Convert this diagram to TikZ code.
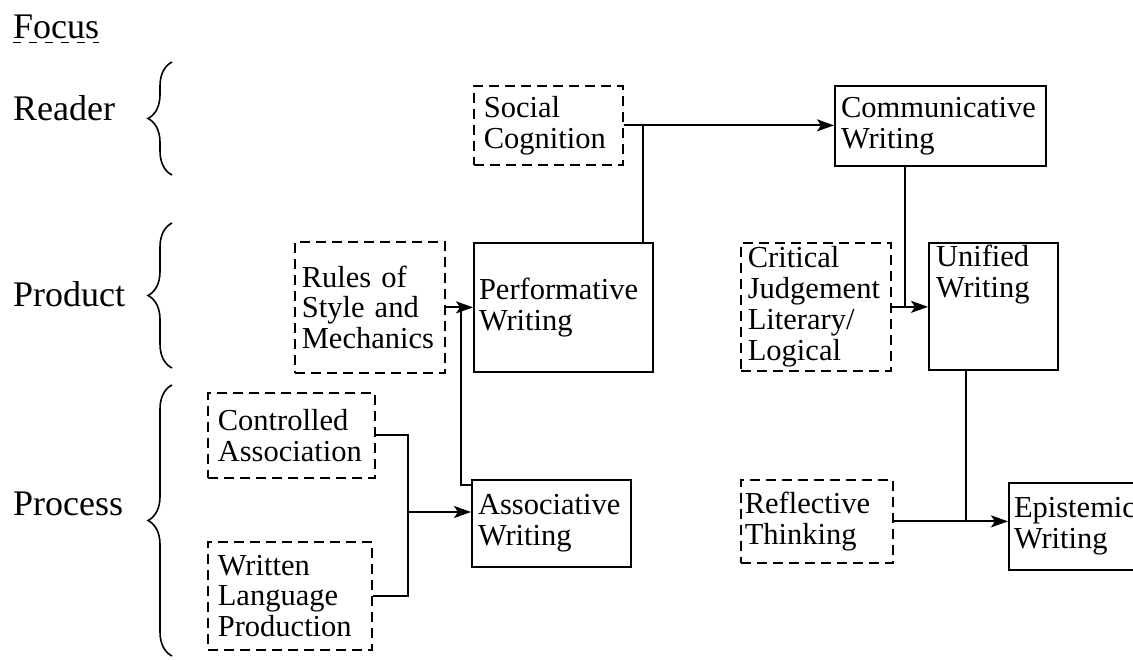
\documentclass[tikz,border=0pt]{standalone}
\usepackage{fontspec}
\setmainfont{Liberation Serif}
\usetikzlibrary{arrows.meta,decorations.pathreplacing,calc}

\newcommand{\boxfont}{\fontsize{30.5}{30.8}\selectfont}
\newcommand{\focusfont}{\fontsize{36}{40}\selectfont}

\tikzset{
  solidbox/.style={draw, line width=2pt, anchor=north west, align=left, inner ysep=0pt, font=\boxfont},
  dashbox/.style={solidbox, line width=1.7pt, dash pattern=on 10pt off 6pt},
  levellabel/.style={anchor=base west, inner sep=0pt, font=\focusfont},
  conn/.style={line width=2pt},
  arr/.style={conn, -{Stealth[length=17pt,width=12pt,inset=4pt]}},
  focusbrace/.style={decorate, decoration={brace, amplitude=24pt}, line width=1.6pt},
}

\begin{document}
\begin{tikzpicture}[x=1pt, y=-1pt]
  \useasboundingbox (0,0) rectangle (1133,659);
  \clip (0,0) rectangle (1133,659);

  % Focus levels (Left)
  \node[levellabel] (focus) at (13,38) {Focus};
  \draw[line width=1.5pt, dash pattern=on 8pt off 8pt] ($(focus.base west)+(0,4.5)$) -- ($(focus.base east)+(0,4.5)$);
  \node[levellabel] (reader) at (13,120) {Reader};
  \node[levellabel] (product) at (13,306) {Product};
  \node[levellabel] (process) at (13,515) {Process};
  \draw[focusbrace] (172,175) -- (172,62);
  \draw[focusbrace] (172,368) -- (172,223);
  \draw[focusbrace] (172,656) -- (172,385);

  % Reader level
  \node[dashbox, inner xsep=10pt, text width=129pt, minimum height=79pt] (social) at (473,85) {Social\\Cognition};
  \node[solidbox, inner xsep=6pt, text width=199pt, minimum height=80pt] (comm) at (834,85) {Communicative\\Writing};

  % Product level
  \node[dashbox, inner xsep=7pt, text width=136pt, minimum height=131pt] (rules) at (294,241) {Rules of\\Style and\\Mechanics};
  \node[solidbox, inner xsep=5pt, text width=169pt, minimum height=129pt] (perf) at (473,242) {Performative\\Writing};
  \node[dashbox, inner xsep=7pt, text width=136pt, minimum height=128pt] (critical) at (740,242) {Critical\\Judgement\\Literary/\\Logical};
  \node[solidbox, inner xsep=7pt, text width=115pt, minimum height=127pt] (unified) at (928,242) {Unified\\Writing\\\strut\\\strut};

  % Process level
  \node[dashbox, inner xsep=10pt, text width=147pt, minimum height=85pt] (controlled) at (207,392) {Controlled\\Association};
  \node[dashbox, inner xsep=10pt, text width=144pt, minimum height=108pt] (written) at (207,541) {Written\\Language\\Production};
  \node[solidbox, inner xsep=6pt, text width=147pt, minimum height=87pt] (assoc) at (471,479) {Associative\\Writing};
  \node[dashbox, inner xsep=4pt, text width=144pt, minimum height=83pt] (reflective) at (740,479) {Reflective\\Thinking};
  \node[solidbox, inner xsep=5pt, text width=140pt, minimum height=87pt] (epist) at (1008,482) {Epistemic\\Writing};

  % Connectors
  \coordinate (socjoin) at ($(perf.north east |- social.east)+(-11,0)$);
  \draw[arr] (social.east) -- (social.east -| comm.west);
  \draw[conn] (socjoin |- perf.north) -- (socjoin);

  \coordinate (commjoin) at ($(comm.south west)+(71,0)$);
  \draw[arr] (rules.east) -- (rules.east -| perf.west);
  \draw[arr] (critical.east) -- (critical.east -| unified.west);
  \draw[conn] (commjoin) -- (commjoin |- critical.east);

  \coordinate (assocjoin) at (408,512);
  \draw[conn] (controlled.east) -| (assocjoin);
  \draw[conn] (written.east) -| (assocjoin);
  \draw[arr] (assocjoin) -- (assocjoin -| assoc.west);
  \coordinate (perfjoin) at ($(rules.east -| perf.west)+(-12,0)$);
  \draw[conn] ($(assoc.north west)+(0,6)$) -| (perfjoin);

  \coordinate (unijoin) at ($(unified.south west)+(38,0)$);
  \draw[arr] (reflective.east) -- (reflective.east -| epist.west);
  \draw[conn] (unijoin) -- (unijoin |- reflective.east);
\end{tikzpicture}
\end{document}
